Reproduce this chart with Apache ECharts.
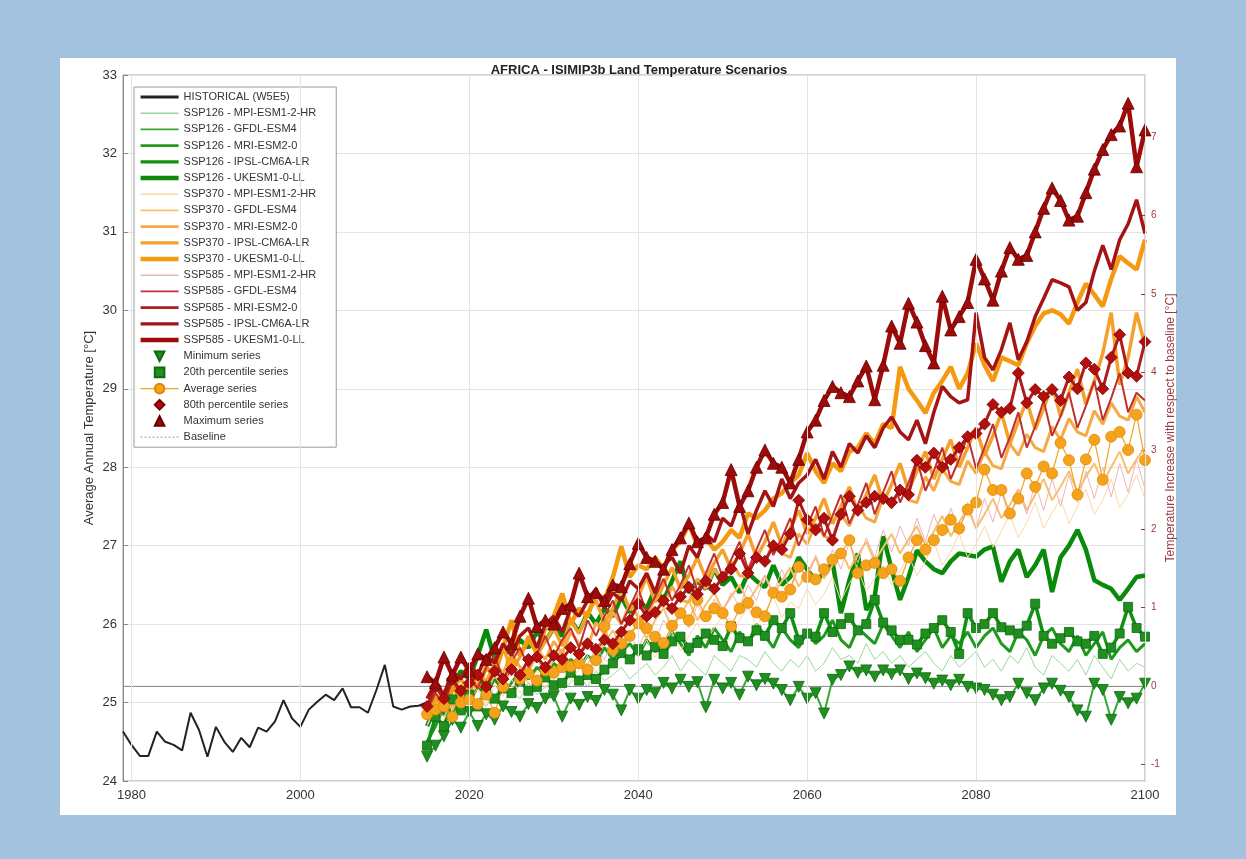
<!DOCTYPE html>
<html><head><meta charset="utf-8">
<script src="https://cdn.jsdelivr.net/npm/echarts@6/dist/echarts.min.js"></script>
<style>
html,body{margin:0;padding:0;background:#a3c2dd;width:1246px;height:859px;overflow:hidden;}
#panel{position:absolute;left:60px;top:58px;width:1116px;height:757px;background:#fff;}
#chart{position:absolute;left:0;top:0;width:1246px;height:859px;}
</style></head><body>
<div id="panel"></div><div id="chart"></div>
<script>
// ---------------- DATA ----------------
const TITLE = 'AFRICA - ISIMIP3b Land Temperature Scenarios';
const xTicks = [1980, 2000, 2020, 2040, 2060, 2080, 2100];
const rightTicks = [-1, 0, 1, 2, 3, 4, 5, 6, 7];
const BASELINE = 25.21;

const histYears = [1979,1980,1981,1982,1983,1984,1985,1986,1987,1988,1989,1990,1991,1992,1993,1994,1995,1996,1997,1998,1999,2000,2001,2002,2003,2004,2005,2006,2007,2008,2009,2010,2011,2012,2013,2014,2015];
const historical = [24.63,24.46,24.32,24.32,24.63,24.50,24.46,24.39,24.87,24.65,24.31,24.69,24.50,24.37,24.55,24.43,24.68,24.63,24.76,25.03,24.80,24.69,24.91,25.01,25.10,25.03,25.18,24.94,24.94,24.87,25.16,25.48,24.95,24.91,24.95,24.96,25.00];

const scenYears = [2015,2016,2017,2018,2019,
2020,2021,2022,2023,2024,2025,2026,2027,2028,2029,
2030,2031,2032,2033,2034,2035,2036,2037,2038,2039,
2040,2041,2042,2043,2044,2045,2046,2047,2048,2049,
2050,2051,2052,2053,2054,2055,2056,2057,2058,2059,
2060,2061,2062,2063,2064,2065,2066,2067,2068,2069,
2070,2071,2072,2073,2074,2075,2076,2077,2078,2079,
2080,2081,2082,2083,2084,2085,2086,2087,2088,2089,
2090,2091,2092,2093,2094,2095,2096,2097,2098,2099,
2100];

// SSP126
const ssp126_MPI = [24.60,24.75,24.90,24.80,25.00,
24.85,25.05,24.95,25.10,25.00,25.15,25.05,25.25,25.10,25.20,
25.30,25.15,25.25,25.35,25.20,25.40,25.28,25.35,25.45,25.30,
25.40,25.50,25.35,25.45,25.60,25.40,25.55,25.45,25.35,25.60,
25.50,25.40,25.60,25.55,25.45,25.65,25.50,25.40,25.55,25.45,
25.60,25.40,25.50,25.70,25.55,25.60,25.50,25.75,25.55,25.65,
25.50,25.60,25.45,25.55,25.65,25.50,25.40,25.60,25.45,25.55,
25.65,25.45,25.55,25.40,25.60,25.50,25.70,25.45,25.35,25.60,
25.50,25.40,25.55,25.35,25.60,25.45,25.30,25.55,25.40,25.50,
25.45];
const ssp126_GFDL = [24.31,24.45,24.57,24.78,24.68,
24.88,24.70,24.85,24.78,24.95,24.88,24.82,24.98,24.93,25.05,
25.08,24.82,25.05,24.97,25.07,25.02,25.16,25.10,24.90,25.16,
25.05,25.16,25.12,25.25,25.18,25.29,25.20,25.26,24.94,25.29,
25.18,25.25,25.10,25.33,25.22,25.30,25.24,25.16,25.03,25.20,
25.05,25.12,24.86,25.29,25.35,25.46,25.38,25.41,25.33,25.41,
25.36,25.41,25.30,25.37,25.31,25.24,25.28,25.22,25.29,25.20,
25.18,25.16,25.10,25.03,25.07,25.24,25.12,25.03,25.18,25.24,
25.15,25.07,24.90,24.82,25.24,25.16,24.78,25.07,24.99,25.05,
25.24];
const ssp126_MRI = [24.50,24.70,24.95,24.85,25.10,
25.00,25.20,25.10,25.30,25.15,25.25,25.40,25.30,25.45,25.35,
25.50,25.40,25.55,25.45,25.60,25.50,25.70,25.55,25.65,25.75,
25.60,25.80,25.65,25.70,25.90,25.75,25.60,25.85,25.70,25.95,
25.80,25.65,25.90,25.75,26.00,25.85,25.70,25.95,25.80,25.70,
25.90,25.75,25.85,26.05,25.80,25.70,25.95,25.85,25.75,26.00,
25.85,25.70,25.90,25.65,25.80,25.95,25.70,25.85,25.75,25.90,
25.70,25.85,25.95,25.75,25.65,25.90,25.80,25.60,25.85,25.95,
25.75,25.65,25.85,25.60,25.75,25.90,25.55,25.70,25.80,25.65,
25.75];
const ssp126_IPSL = [24.45,24.82,24.70,25.04,24.90,
25.10,24.95,25.20,25.05,25.18,25.12,25.28,25.15,25.20,25.32,
25.22,25.25,25.38,25.28,25.35,25.30,25.42,25.50,25.63,25.55,
25.68,25.60,25.71,25.62,25.78,25.84,25.70,25.76,25.88,25.80,
25.72,25.97,25.82,25.78,25.92,25.85,26.05,25.95,26.14,25.80,
25.88,25.84,26.14,25.90,26.00,26.08,25.92,26.00,26.31,26.02,
25.92,25.80,25.80,25.74,25.88,25.95,26.05,25.90,25.62,26.14,
25.95,26.00,26.14,25.96,25.92,25.88,25.98,26.26,25.85,25.75,
25.82,25.90,25.78,25.75,25.85,25.62,25.70,25.88,26.22,25.95,
25.84];
const ssp126_UKESM = [24.70,24.95,24.85,25.20,25.40,
25.30,25.60,25.93,25.55,25.70,25.62,25.80,25.70,25.90,25.78,
25.95,25.85,26.05,25.90,26.15,26.00,26.20,26.10,26.35,26.15,
26.30,26.20,26.45,26.30,26.55,26.80,26.40,26.55,26.45,26.70,
26.50,26.60,26.40,26.65,26.55,26.47,26.75,26.50,26.60,26.85,
26.70,26.55,26.65,26.80,26.14,26.56,26.90,26.18,26.35,27.12,
26.70,26.31,26.60,26.94,26.80,26.70,26.65,26.80,26.90,26.88,
26.86,26.95,26.99,26.54,26.80,26.95,26.60,26.75,26.95,26.41,
26.85,27.00,27.20,26.95,26.56,26.50,26.45,26.31,26.45,26.60,
26.62];

// SSP370
const ssp370_MPI = [24.70,24.92,24.78,25.05,24.88,
25.02,25.18,24.96,25.22,25.08,25.30,25.12,25.26,25.40,25.18,
25.35,25.50,25.28,25.42,25.60,25.38,25.55,25.47,25.70,25.52,
25.62,25.80,25.58,25.74,25.90,25.66,25.85,26.02,25.78,25.95,
26.10,25.88,26.05,26.22,25.98,26.15,26.35,26.08,26.28,26.20,
26.45,26.25,26.38,26.60,26.30,26.52,26.70,26.42,26.58,26.75,
26.50,26.68,26.88,26.62,26.80,27.05,26.75,26.92,27.15,26.85,
27.02,27.25,26.98,27.18,27.40,27.10,27.30,27.55,27.22,27.42,
27.60,27.28,27.50,27.72,27.40,27.58,27.85,27.48,27.65,27.90,
27.60];
const ssp370_GFDL = [24.80,24.98,25.10,24.90,25.15,
25.05,25.25,25.12,25.35,25.20,25.45,25.30,25.40,25.58,25.35,
25.55,25.68,25.45,25.62,25.80,25.58,25.75,25.92,25.70,25.88,
26.00,25.82,26.05,26.20,25.95,26.12,26.30,26.05,26.25,26.40,
26.18,26.35,26.50,26.28,26.45,26.62,26.38,26.55,26.72,26.48,
26.65,26.85,26.58,26.75,26.95,26.70,26.88,27.05,26.80,26.98,
27.15,26.90,27.08,27.25,27.00,27.18,27.38,27.12,27.30,27.48,
27.22,27.40,27.60,27.35,27.52,27.72,27.45,27.65,27.85,27.58,
27.75,27.95,27.68,27.88,28.05,27.80,28.00,28.20,27.92,28.10,
28.25];
const ssp370_MRI = [24.88,25.02,25.15,24.95,25.22,
25.12,25.35,25.28,25.50,25.38,25.62,25.45,25.40,25.68,25.55,
25.78,25.62,25.90,25.75,25.70,26.02,25.88,26.15,26.00,26.25,
26.10,26.05,26.35,26.22,26.48,26.30,26.28,26.58,26.45,26.70,
26.55,26.80,26.62,26.60,26.92,26.78,27.05,26.90,26.85,27.15,
27.02,27.28,27.12,27.08,27.40,27.25,27.52,27.35,27.30,27.62,
27.48,27.75,27.58,27.55,27.88,27.70,27.98,27.82,27.78,28.08,
27.92,28.20,28.02,27.98,28.30,28.15,28.42,28.25,28.20,28.52,
28.35,28.62,28.45,28.40,28.72,28.55,28.82,28.65,28.60,28.90,
28.70];
const ssp370_IPSL = [24.82,25.05,24.92,25.18,25.30,
25.12,25.38,25.25,25.48,25.70,25.42,25.58,25.85,25.60,25.78,
25.95,25.72,26.05,25.88,26.15,26.30,26.02,26.20,26.45,26.18,
26.35,26.60,26.28,26.50,26.72,26.45,26.62,26.85,26.58,26.78,
26.95,26.70,26.90,27.15,26.85,27.05,27.30,27.00,27.22,27.45,
27.15,27.35,27.60,27.28,27.50,27.75,27.42,27.65,27.90,27.55,
27.78,28.05,27.70,27.95,28.20,27.85,28.10,28.35,28.00,28.25,
28.50,28.15,28.40,28.70,28.30,28.58,28.85,28.48,28.75,29.05,
28.65,28.95,29.25,28.80,29.10,29.45,29.97,29.05,29.40,29.97,
29.55];
const ssp370_UKESM = [24.90,25.10,24.95,25.20,25.05,
25.30,25.20,25.45,25.35,25.70,26.05,25.60,25.80,25.65,25.95,
26.10,26.39,26.00,26.20,26.10,26.40,26.30,26.60,26.99,26.60,
26.75,26.70,26.85,26.70,26.95,27.05,27.28,27.00,27.10,26.95,
27.05,27.20,27.10,27.41,27.35,27.45,27.60,27.67,27.80,27.90,
28.18,27.95,27.80,28.05,27.95,28.20,28.25,28.43,28.30,28.55,
28.50,29.28,29.00,28.85,28.69,28.95,29.10,29.28,29.00,29.20,
29.58,29.30,29.10,29.40,29.35,29.30,29.58,29.80,29.96,30.00,
29.95,29.83,30.10,30.34,30.20,30.05,30.40,30.69,30.60,30.52,
30.90];

// SSP585
const ssp585_MPI = [24.72,24.95,24.82,25.05,24.92,
25.10,24.98,25.22,25.08,25.30,25.15,25.40,25.25,25.18,25.45,
25.35,25.55,25.40,25.62,25.48,25.70,25.55,25.78,25.62,25.85,
25.70,25.92,25.78,26.05,25.88,26.12,25.95,26.25,26.05,26.32,
26.15,26.40,26.22,26.50,26.30,26.62,26.38,26.70,26.45,26.80,
26.55,26.88,26.62,26.95,26.70,27.05,26.78,27.10,26.85,27.20,
26.92,27.25,27.00,27.35,27.05,27.40,27.12,27.48,27.18,27.55,
27.22,27.60,27.30,27.68,27.35,27.72,27.40,27.80,27.45,27.85,
27.50,27.90,27.55,27.95,27.60,28.00,27.62,28.05,27.68,28.10,
27.72];
const ssp585_GFDL = [24.90,25.12,24.98,25.28,25.10,
25.32,25.18,25.45,25.60,25.30,25.52,25.70,25.45,25.62,25.85,
25.58,25.80,25.95,25.70,26.05,25.85,26.10,26.30,26.00,26.22,
26.45,26.15,26.35,26.58,26.30,26.50,26.75,26.42,26.65,26.90,
26.60,26.82,27.05,26.70,26.95,27.20,26.88,27.10,27.35,27.00,
27.25,27.50,27.12,27.38,27.65,27.28,27.52,27.80,27.40,27.68,
27.95,27.55,27.80,28.10,27.70,27.95,28.25,27.85,28.10,28.40,
27.98,28.25,28.55,28.12,28.38,28.70,28.25,28.52,28.85,28.40,
28.65,28.95,28.50,28.78,29.10,28.60,28.88,29.20,28.70,28.95,
28.85];
const ssp585_MRI = [24.95,25.20,25.05,25.30,25.15,
25.25,25.35,25.20,25.40,25.30,25.42,25.35,25.55,25.58,25.45,
25.60,25.55,25.70,25.62,25.75,25.68,25.80,25.75,25.90,26.05,
26.26,26.10,26.15,26.30,26.20,26.35,26.47,26.38,26.55,26.45,
26.60,26.70,26.90,26.65,26.85,26.80,27.00,26.95,27.15,27.58,
27.33,27.20,27.35,27.07,27.40,27.63,27.45,27.55,27.63,27.60,
27.55,27.71,27.65,28.09,28.00,28.18,28.00,28.10,28.25,28.39,
28.43,28.55,28.80,28.70,28.75,29.20,28.82,28.99,28.90,28.99,
28.85,29.15,29.00,29.33,29.25,29.00,29.40,29.69,29.20,29.16,
29.60];
const ssp585_IPSL = [25.05,25.25,25.10,25.40,25.30,
25.50,25.35,25.60,25.50,25.75,25.60,25.85,25.95,25.70,26.00,
26.10,25.90,26.20,26.10,26.30,26.45,26.20,26.40,26.30,26.55,
26.45,26.65,26.40,26.75,26.85,26.65,27.00,26.85,27.15,27.05,
27.35,27.25,27.55,27.15,27.45,27.70,27.50,27.85,27.60,27.80,
27.90,28.10,27.85,28.20,28.00,28.30,28.18,28.40,28.25,28.50,
28.64,28.45,28.35,28.60,28.30,28.70,29.03,28.90,28.82,28.86,
29.97,29.40,29.24,29.50,29.84,29.37,29.60,29.92,30.15,30.39,
30.35,30.30,30.00,30.10,30.50,30.83,30.52,30.90,31.10,31.41,
30.98];
const ssp585_UKESM = [25.33,25.25,25.58,25.35,25.58,
25.40,25.62,25.55,25.70,25.90,25.75,26.10,26.33,25.97,26.05,
26.00,26.20,26.25,26.65,26.35,26.40,26.30,26.50,26.48,26.77,
27.03,26.85,26.80,26.70,26.95,27.10,27.29,27.05,27.10,27.40,
27.55,27.97,27.50,27.70,28.00,28.22,28.05,28.00,27.80,28.10,
28.45,28.60,28.85,29.03,28.95,28.90,29.10,29.29,28.86,29.30,
29.80,29.58,30.09,29.85,29.55,29.33,30.18,29.75,29.92,30.10,
30.65,30.40,30.13,30.50,30.80,30.65,30.70,31.00,31.30,31.56,
31.40,31.15,31.20,31.50,31.80,32.05,32.24,32.35,32.64,31.83,
32.30];

// Statistic series
const minimumSeries = ssp126_GFDL;
const pct20Series = ssp126_IPSL;
const averageSeries = [24.85,24.91,24.95,24.82,25.00,
25.04,24.98,25.10,24.87,25.20,25.50,25.30,25.37,25.28,25.41,
25.38,25.45,25.46,25.50,25.42,25.54,25.97,25.67,25.75,25.85,
26.01,25.95,25.84,25.76,25.98,26.14,26.05,26.31,26.10,26.20,
26.14,25.97,26.20,26.27,26.15,26.10,26.40,26.35,26.44,26.73,
26.60,26.57,26.70,26.82,26.90,27.07,26.65,26.75,26.78,26.65,
26.70,26.55,26.85,27.07,26.95,27.07,27.20,27.33,27.22,27.46,
27.55,27.97,27.71,27.71,27.41,27.60,27.92,27.75,28.01,27.92,
28.31,28.09,27.65,28.10,28.35,27.84,28.39,28.45,28.22,28.67,
28.09];
const pct80Series = ssp585_MRI;
const maximumSeries = ssp585_UKESM;

// ---------------- CHART ----------------
const FONT = 'Liberation Sans, Arial, sans-serif';
const models = [
  ['SSP126 - MPI-ESM1-2-HR', ssp126_MPI, '#9ad89a', 1],
  ['SSP126 - GFDL-ESM4', ssp126_GFDL, '#35a835', 2],
  ['SSP126 - MRI-ESM2-0', ssp126_MRI, '#1f9a1f', 3],
  ['SSP126 - IPSL-CM6A-LR', ssp126_IPSL, '#129012', 3.5],
  ['SSP126 - UKESM1-0-LL', ssp126_UKESM, '#0a8a0a', 4.5],
  ['SSP370 - MPI-ESM1-2-HR', ssp370_MPI, '#fbd7a4', 1],
  ['SSP370 - GFDL-ESM4', ssp370_GFDL, '#f8bf6c', 2],
  ['SSP370 - MRI-ESM2-0', ssp370_MRI, '#f6aa45', 3],
  ['SSP370 - IPSL-CM6A-LR', ssp370_IPSL, '#f5a02a', 3.5],
  ['SSP370 - UKESM1-0-LL', ssp370_UKESM, '#f59a10', 4.5],
  ['SSP585 - MPI-ESM1-2-HR', ssp585_MPI, '#eeb4b4', 1],
  ['SSP585 - GFDL-ESM4', ssp585_GFDL, '#c03030', 2],
  ['SSP585 - MRI-ESM2-0', ssp585_MRI, '#b01c1c', 3],
  ['SSP585 - IPSL-CM6A-LR', ssp585_IPSL, '#a51414', 3.5],
  ['SSP585 - UKESM1-0-LL', ssp585_UKESM, '#9e0b0b', 4.5]
];
const stats = [
  ['Minimum series', minimumSeries, '#1f8f1f', '#0e6a0e', 'triangle', 180, 11, 0],
  ['20th percentile series', pct20Series, '#1f8f1f', '#0e6a0e', 'rect', 0, 9, 0],
  ['Average series', averageSeries, '#f5a31c', '#e08a00', 'circle', 0, 11, 1.2],
  ['80th percentile series', pct80Series, '#b40f0f', '#7a0000', 'diamond', 0, 12, 0],
  ['Maximum series', maximumSeries, '#9e0b0b', '#650000', 'triangle', 0, 12, 0]
];
const pairs = (xs, ys) => ys.map((v, i) => [xs[i], v]);
[...models, ...stats].forEach(m => { if (m[1].length !== scenYears.length) throw new Error(m[0] + ' length ' + m[1].length); });

const lineIcon = w => 'path://M0,0H40V' + w + 'H0Z';
let dots = '';
for (let i = 0; i < 40; i += 4) dots += 'M' + i + ',0h2v1.2h-2z';
const dottedIcon = 'path://' + dots;

const series = [];
series.push({
  name: 'Baseline', type: 'line', z: 1, symbol: 'none', silent: true,
  data: [[histYears[0], BASELINE], [scenYears[scenYears.length - 1], BASELINE]],
  lineStyle: { color: '#b0b0b0', width: 1, type: 'dotted' },
  itemStyle: { color: '#b0b0b0' },
  markLine: {
    silent: true, symbol: 'none', label: { show: false },
    lineStyle: { color: '#e4e4e4', width: 1, type: 'solid' },
    data: xTicks.map(t => ({ xAxis: t }))
  }
});
series.push({
  name: 'HISTORICAL (W5E5)', type: 'line', z: 2, symbol: 'none',
  data: pairs(histYears, historical),
  lineStyle: { color: '#222', width: 2 }, itemStyle: { color: '#222' }
});
models.forEach(m => series.push({
  name: m[0], type: 'line', z: 2, symbol: 'none',
  data: pairs(scenYears, m[1]),
  lineStyle: { color: m[2], width: m[3] }, itemStyle: { color: m[2] }
}));
stats.forEach(s => series.push({
  name: s[0], type: 'line', z: 3, symbol: s[4], symbolRotate: s[5], symbolSize: s[6],
  showAllSymbol: true,
  data: pairs(scenYears, s[1]),
  lineStyle: { color: s[2], width: s[7] },
  itemStyle: { color: s[2], borderColor: s[3], borderWidth: 0.8 }
}));

const legendData = [{ name: 'HISTORICAL (W5E5)', icon: lineIcon(3) }]
  .concat(models.map(m => ({ name: m[0], icon: lineIcon(Math.max(1.6, m[3])) })))
  .concat(stats.map(s => ({ name: s[0] })))
  .concat([{ name: 'Baseline', icon: dottedIcon }]);

const chart = echarts.init(document.getElementById('chart'), null, { renderer: 'canvas' });
chart.setOption({
  animation: false,
  backgroundColor: 'transparent',
  textStyle: { fontFamily: FONT },
  title: {
    text: TITLE, left: 634, top: 59, textAlign: 'center',
    textStyle: { fontSize: 13, fontWeight: 'bold', color: '#222', fontFamily: FONT }
  },
  legend: {
    data: legendData, orient: 'vertical', left: 134, top: 87,
    itemWidth: 38, itemHeight: 12, itemGap: 0.2,
    padding: [2, 20, 2, 6],
    backgroundColor: '#fff', borderColor: '#9a9a9a', borderWidth: 1,
    selectedMode: false,
    lineStyle: { width: 'inherit' },
    textStyle: { fontSize: 11, lineHeight: 16, color: '#333', fontFamily: FONT }
  },
  grid: {
    left: 123, right: 101, top: 75, bottom: 78,
    show: true, borderColor: '#a0a0a0', borderWidth: 1, backgroundColor: 'transparent'
  },
  xAxis: {
    type: 'value', min: 1979, max: 2100,
    axisLine: { lineStyle: { color: '#888' } },
    splitLine: { show: false },
    axisTick: { inside: true, length: 5, customValues: xTicks, lineStyle: { color: '#888' } },
    axisLabel: { customValues: xTicks, formatter: v => String(v), fontSize: 13, color: '#333', margin: 8 }
  },
  yAxis: [{
    type: 'value', min: 24, max: 33, interval: 1, position: 'left',
    name: 'Average Annual Temperature [°C]', nameLocation: 'middle', nameGap: 27,
    nameMoveOverlap: false,
    nameTextStyle: { fontSize: 13, color: '#333' },
    axisLine: { show: true, lineStyle: { color: '#888' } },
    axisTick: { show: true, inside: true, length: 5, lineStyle: { color: '#888' } },
    axisLabel: { fontSize: 13, color: '#333', margin: 6 },
    splitLine: { show: true, lineStyle: { color: '#e4e4e4', width: 1 } }
  }, {
    type: 'value', min: 24 - BASELINE, max: 33 - BASELINE, position: 'right',
    name: 'Temperature Increase with respect to baseline [°C]', nameLocation: 'middle',
    nameGap: 20, nameRotate: 90, nameMoveOverlap: false,
    nameTextStyle: { fontSize: 12, color: '#9c3a3a' },
    axisLine: { show: true, lineStyle: { color: '#a0a0a0' } },
    axisTick: { show: true, inside: true, length: 4, customValues: rightTicks, lineStyle: { color: '#9c3a3a' } },
    axisLabel: { customValues: rightTicks, formatter: v => String(Math.round(v)), fontSize: 10, color: '#9c3a3a', margin: 6 },
    splitLine: { show: false }
  }],
  series: series
});
</script></body></html>
